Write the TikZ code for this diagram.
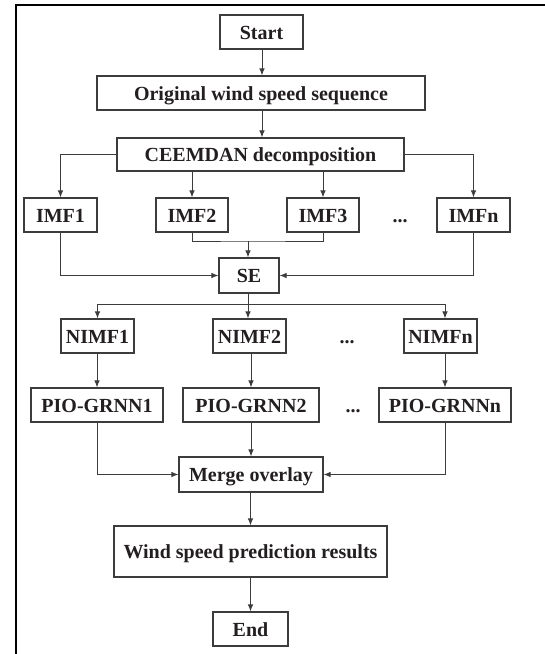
\documentclass[tikz,border=0pt]{standalone}
\usepackage{fontspec}
\setmainfont{Liberation Serif}
\usetikzlibrary{arrows.meta}
\definecolor{txt}{HTML}{231F20}
\definecolor{ln}{HTML}{3C3C3C}
\begin{document}
\begin{tikzpicture}[x=1pt,y=-1pt,
  box/.style={draw=ln,line width=1.1pt,fill=white,inner sep=0pt,text=txt,
    font=\fontsize{20}{22}\selectfont\bfseries,text height=15pt,text depth=1pt},
  dots/.style={inner sep=0pt,text=txt,font=\fontsize{20}{22}\selectfont\bfseries,text height=15pt,text depth=1pt},
  conn/.style={draw=ln,line width=1pt},
  arr/.style={conn,-{Latex[length=7pt,width=5.5pt]}}]
\useasboundingbox (0,0) rectangle (545,654);
\draw[line width=2pt,black] (16,654) -- (16,5) -- (545,5);
% nodes
\node[box,minimum width=83pt,minimum height=34pt] (start) at (261.5,32) {Start};
\node[box,minimum width=328pt,minimum height=34pt] (orig) at (261,93) {Original wind speed sequence};
\node[box,minimum width=287pt,minimum height=33pt] (ceem) at (260.5,154.5) {CEEMDAN decomposition};
\node[box,minimum width=73pt,minimum height=34pt] (imf1) at (60.5,215) {IMF1};
\node[box,minimum width=72pt,minimum height=34pt] (imf2) at (192,215) {IMF2};
\node[box,minimum width=72pt,minimum height=34pt] (imf3) at (323,215) {IMF3};
\node[box,minimum width=73pt,minimum height=34pt] (imfn) at (473.5,215) {IMFn};
\node[dots] (d1) at (400,215) {...};
\node[box,minimum width=60pt,minimum height=35pt] (se) at (249,275.5) {SE};
\node[box,minimum width=73pt,minimum height=34pt] (nimf1) at (97.5,336) {NIMF1};
\node[box,minimum width=73pt,minimum height=34pt] (nimf2) at (249.5,336) {NIMF2};
\node[box,minimum width=73pt,minimum height=34pt] (nimfn) at (440.5,336) {NIMFn};
\node[dots] (d2) at (347,336) {...};
\node[box,minimum width=132pt,minimum height=34pt] (pio1) at (97,405) {PIO-GRNN1};
\node[box,minimum width=136pt,minimum height=34pt] (pio2) at (251,405) {PIO-GRNN2};
\node[box,minimum width=132pt,minimum height=34pt] (pion) at (445,405) {PIO-GRNNn};
\node[dots] (d3) at (353,405) {...};
\node[box,minimum width=144pt,minimum height=35pt] (merge) at (251,474.5) {Merge overlay};
\node[box,minimum width=273pt,minimum height=51pt] (wind) at (250.5,551.5) {Wind speed prediction results};
\node[box,minimum width=75pt,minimum height=34pt] (end) at (250.5,629) {End};
% junctions
\coordinate (j1) at (248,241);
\coordinate (j2) at (248,304);
% connectors
\draw[arr] (start.south -| 262,0) -- (orig.north -| 262,0);
\draw[arr] (orig.south -| 262,0) -- (ceem.north -| 262,0);
\draw[arr] (ceem.west) -| (imf1.north);
\draw[arr] (ceem.east) -| (imfn.north);
\draw[arr] (ceem.south -| imf2.north) -- (imf2.north);
\draw[arr] (ceem.south -| imf3.north) -- (imf3.north);
\draw[conn] (imf2.south) |- (j1) -| (imf3.south);
\draw[arr] (j1) -- (j1 |- se.north);
\draw[arr] (imf1.south) |- (se.west);
\draw[arr] (imfn.south) |- (se.east);
\draw[conn] (se.south -| j2) -- (j2);
\draw[conn] (j2 -| nimf1.north) -- (j2 -| pion.north);
\draw[arr] (j2 -| nimf1.north) -- (nimf1.north);
\draw[arr] (j2) -- (j2 |- nimf2.north);
\draw[arr] (j2 -| pion.north) -- (pion.north |- nimfn.north);
\draw[arr] (nimf1.south -| pio1.north) -- (pio1.north);
\draw[arr] (nimf2.south -| pio2.north) -- (pio2.north);
\draw[arr] (nimfn.south -| pion.north) -- (pion.north);
\draw[arr] (pio1.south) |- (merge.west);
\draw[arr] (pion.south) |- (merge.east);
\draw[arr] (pio2.south) -- (merge.north -| pio2.south);
\draw[arr] (merge.south -| 250.5,0) -- (wind.north -| 250.5,0);
\draw[arr] (wind.south -| 250.5,0) -- (end.north -| 250.5,0);
\end{tikzpicture}
\end{document}
